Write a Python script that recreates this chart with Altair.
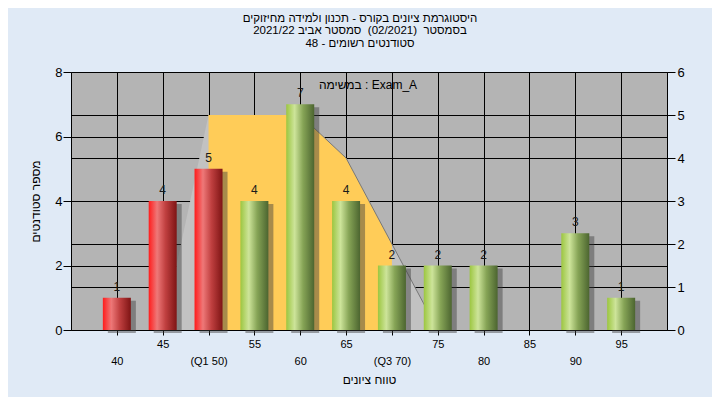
import altair as alt
import pandas as pd

# ---- data ----
scores = [40, 45, 50, 55, 60, 65, 70, 75, 80, 85, 90, 95]
counts = [1, 4, 5, 4, 7, 4, 2, 2, 2, 0, 3, 1]
bar_groups = ["low", "low", "low", "high", "high", "high", "high", "high", "high", "high", "high", "high"]
x_tick_labels = ["40", "45", "(Q1 50)", "55", "60", "65", "(Q3 70)", "75", "80", "85", "90", "95"]

curve_scores = [45, 50, 55, 60, 65, 70, 75]
curve_values = [0, 5, 5, 5, 4, 2, 0]
q1, q3 = 50, 70
edge_from = 60

RLE, PDF, NB = "\u202b", "\u202c", "\u00a0"
title_lines = [
    "היסטוגרמת ציונים בקורס - תכנון ולמידה מחיזוקים",
    "בסמסטר" + NB + " (02/2021)" + NB + " סמסטר אביב 2021/22",
    "סטודנטים רשומים - 48",
]
x_title = "טווח ציונים"
y_title = "מספר סטודנטים"
legend_text = "במשימה : Exam_A"

FONT = "Liberation Sans, DejaVu Sans, sans-serif"

bars_df = pd.DataFrame({
    "score": scores,
    "count": counts,
    "group": bar_groups,
    "label": [str(c) for c in counts],
})
curve_df = pd.DataFrame({"score": curve_scores, "value": curve_values})

arr = "[" + ",".join("'" + s + "'" for s in x_tick_labels) + "]"
label_expr = (
    f"((datum.value - 40) % 10 == 5) ? {arr}[(datum.value - 40) / 5] "
    f": ['', {arr}[(datum.value - 40) / 5]]"
)

x_enc = alt.X(
    "score:Q",
    scale=alt.Scale(domain=[35, 100], nice=False, zero=False, padding=0),
    axis=alt.Axis(
        values=scores, grid=True, gridColor="black", gridOpacity=1, gridWidth=1,
        tickSize=5, tickColor="black", domainColor="black",
        labelExpr=label_expr, labelLineHeight=17, labelFontSize=11, labelColor="black",
        labelPadding=3, labelFont=FONT,
        title=x_title, titleFontSize=12, titleFontWeight="normal", titleColor="black",
        titlePadding=8, titleFont=FONT,
    ),
)

y_left = alt.Y(
    "count:Q",
    scale=alt.Scale(domain=[0, 8], nice=False, padding=0),
    axis=alt.Axis(
        orient="left", values=[0, 2, 4, 6, 8], grid=True, gridColor="black", gridOpacity=1,
        gridWidth=1, tickSize=8, tickColor="black", domainColor="black",
        labelFontSize=13, labelColor="black", labelPadding=1, labelFont=FONT,
        title=y_title, titleFontSize=12, titleFontWeight="normal", titleColor="black",
        titlePadding=12, titleFont=FONT,
    ),
)

y_right = alt.Y(
    "value:Q",
    scale=alt.Scale(domain=[0, 6], nice=False, padding=0),
    axis=alt.Axis(
        orient="right", values=[0, 1, 2, 3, 4, 5, 6], grid=True, gridColor="black",
        gridOpacity=1, gridWidth=1, tickSize=8, tickColor="black", domainColor="black",
        labelFontSize=13, labelColor="black", labelPadding=2, labelFont=FONT, title=None,
    ),
)

red_grad = alt.Gradient(
    gradient="linear", x1=0, x2=1, y1=0, y2=0,
    stops=[
        alt.GradientStop(offset=0, color="#ff1c1c"),
        alt.GradientStop(offset=0.3, color="#ee7878"),
        alt.GradientStop(offset=0.6, color="#c04040"),
        alt.GradientStop(offset=1, color="#7e1414"),
    ],
)
green_grad = alt.Gradient(
    gradient="linear", x1=0, x2=1, y1=0, y2=0,
    stops=[
        alt.GradientStop(offset=0, color="#9cc640"),
        alt.GradientStop(offset=0.3, color="#cde49a"),
        alt.GradientStop(offset=0.6, color="#86a456"),
        alt.GradientStop(offset=1, color="#4c6530"),
    ],
)

# ---- area on the right axis ----
base_curve = alt.Chart(curve_df)
gray_area = base_curve.mark_area(color="#c2c2c2").encode(x=x_enc, y=y_right)
yellow_area = base_curve.transform_filter(
    (alt.datum.score >= q1) & (alt.datum.score <= q3)
).mark_area(color="#ffcc58").encode(x=x_enc, y=y_right)
edge_line = base_curve.transform_filter(alt.datum.score >= edge_from).mark_line(
    color="#777777", strokeWidth=1
).encode(x=x_enc, y=y_right)
area_layer = alt.layer(gray_area, yellow_area, edge_line)

# ---- bars on the left axis ----
base_bars = alt.Chart(bars_df).transform_filter(alt.datum["count"] > 0)
shadow = base_bars.mark_bar(
    size=28, color="#3c3c3c", opacity=0.45, xOffset=5, yOffset=3
).encode(x=x_enc, y=y_left)
red_bars = base_bars.transform_filter(alt.datum.group == "low").mark_bar(
    size=28, color=red_grad
).encode(x=x_enc, y=y_left)
green_bars = base_bars.transform_filter(alt.datum.group == "high").mark_bar(
    size=28, color=green_grad
).encode(x=x_enc, y=y_left)
labels = base_bars.mark_text(
    fontSize=12, font=FONT, color="#1a1a1a", baseline="alphabetic", dy=-7
).encode(x=x_enc, y=y_left, text="label:N")
note = alt.Chart(pd.DataFrame({"t": [legend_text]})).mark_text(
    fontSize=12, font=FONT, color="black", baseline="middle"
).encode(text="t:N", x=alt.value(297), y=alt.value(13))

bar_layer = alt.layer(shadow, red_bars, green_bars, labels, note)

chart = alt.layer(area_layer, bar_layer).resolve_scale(y="independent").properties(
    width=596,
    height=258,
    autosize=alt.AutoSizeParams(type="none"),
    padding={"left": 63, "top": 64, "right": 45, "bottom": 67},
    background="#e0eaf6",
    title=alt.TitleParams(
        text=[RLE + t + PDF for t in title_lines],
        fontSize=11.5, fontWeight="normal", color="black", font=FONT,
        lineHeight=12.5, offset=17, dx=-9, anchor="middle",
    ),
).configure_view(fill="#b4b4b4", stroke="transparent")

chart.save("out.html", embed_options={"renderer": "svg", "actions": False})
